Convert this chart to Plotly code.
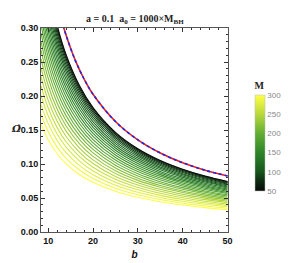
import plotly.graph_objects as go
from plotly.colors import sample_colorscale

# ---- data ----
b_vals = [8.4, 10, 12, 14, 17, 20, 25, 30, 35, 40, 45, 50]

M_vals = [50, 60, 70, 80, 90, 100, 110, 120, 130, 140, 150, 160, 170,
          180, 190, 200, 210, 220, 230, 240, 250, 260, 270, 280, 290, 300]

omega_M050 = [0.4345, 0.3650, 0.3042, 0.2607, 0.2150, 0.1830, 0.1466, 0.1225, 0.1052, 0.0923, 0.0822, 0.0742]
omega_M060 = [0.4303, 0.3615, 0.3013, 0.2583, 0.2130, 0.1813, 0.1453, 0.1214, 0.1043, 0.0915, 0.0815, 0.0736]
omega_M070 = [0.4242, 0.3564, 0.2971, 0.2547, 0.2101, 0.1789, 0.1434, 0.1198, 0.1029, 0.0903, 0.0805, 0.0727]
omega_M080 = [0.4170, 0.3504, 0.2922, 0.2505, 0.2067, 0.1760, 0.1411, 0.1180, 0.1014, 0.0890, 0.0793, 0.0716]
omega_M090 = [0.4091, 0.3438, 0.2867, 0.2459, 0.2029, 0.1728, 0.1386, 0.1159, 0.0996, 0.0874, 0.0779, 0.0704]
omega_M100 = [0.4005, 0.3367, 0.2809, 0.2409, 0.1989, 0.1694, 0.1359, 0.1137, 0.0977, 0.0858, 0.0765, 0.0691]
omega_M110 = [0.3914, 0.3292, 0.2746, 0.2356, 0.1946, 0.1658, 0.1330, 0.1113, 0.0957, 0.0841, 0.0750, 0.0677]
omega_M120 = [0.3819, 0.3212, 0.2681, 0.2300, 0.1900, 0.1620, 0.1300, 0.1088, 0.0936, 0.0823, 0.0734, 0.0663]
omega_M130 = [0.3719, 0.3129, 0.2612, 0.2242, 0.1853, 0.1580, 0.1269, 0.1062, 0.0914, 0.0803, 0.0717, 0.0648]
omega_M140 = [0.3615, 0.3043, 0.2541, 0.2181, 0.1804, 0.1539, 0.1236, 0.1036, 0.0891, 0.0784, 0.0699, 0.0632]
omega_M150 = [0.3508, 0.2954, 0.2467, 0.2119, 0.1753, 0.1496, 0.1203, 0.1008, 0.0868, 0.0763, 0.0681, 0.0616]
omega_M160 = [0.3398, 0.2862, 0.2392, 0.2055, 0.1701, 0.1452, 0.1168, 0.0979, 0.0844, 0.0742, 0.0663, 0.0600]
omega_M170 = [0.3284, 0.2767, 0.2314, 0.1989, 0.1647, 0.1406, 0.1132, 0.0950, 0.0819, 0.0720, 0.0644, 0.0583]
omega_M180 = [0.3168, 0.2671, 0.2234, 0.1921, 0.1592, 0.1360, 0.1096, 0.0919, 0.0793, 0.0698, 0.0624, 0.0565]
omega_M190 = [0.3049, 0.2572, 0.2152, 0.1851, 0.1535, 0.1312, 0.1058, 0.0888, 0.0767, 0.0676, 0.0604, 0.0547]
omega_M200 = [0.2927, 0.2470, 0.2069, 0.1780, 0.1477, 0.1264, 0.1020, 0.0857, 0.0740, 0.0652, 0.0584, 0.0529]
omega_M210 = [0.2803, 0.2367, 0.1984, 0.1708, 0.1418, 0.1214, 0.0981, 0.0825, 0.0713, 0.0629, 0.0563, 0.0510]
omega_M220 = [0.2676, 0.2262, 0.1897, 0.1634, 0.1358, 0.1164, 0.0941, 0.0792, 0.0685, 0.0604, 0.0542, 0.0491]
omega_M230 = [0.2548, 0.2155, 0.1808, 0.1559, 0.1297, 0.1112, 0.0900, 0.0759, 0.0657, 0.0580, 0.0520, 0.0472]
omega_M240 = [0.2417, 0.2046, 0.1719, 0.1483, 0.1235, 0.1060, 0.0859, 0.0725, 0.0628, 0.0555, 0.0498, 0.0452]
omega_M250 = [0.2284, 0.1935, 0.1627, 0.1405, 0.1172, 0.1007, 0.0817, 0.0690, 0.0599, 0.0530, 0.0476, 0.0432]
omega_M260 = [0.2149, 0.1823, 0.1535, 0.1327, 0.1108, 0.0953, 0.0775, 0.0655, 0.0569, 0.0504, 0.0453, 0.0412]
omega_M270 = [0.2012, 0.1709, 0.1441, 0.1247, 0.1043, 0.0898, 0.0732, 0.0620, 0.0539, 0.0478, 0.0430, 0.0391]
omega_M280 = [0.1873, 0.1594, 0.1345, 0.1166, 0.0977, 0.0843, 0.0688, 0.0584, 0.0508, 0.0451, 0.0407, 0.0371]
omega_M290 = [0.1732, 0.1477, 0.1249, 0.1084, 0.0911, 0.0787, 0.0644, 0.0547, 0.0477, 0.0424, 0.0383, 0.0349]
omega_M300 = [0.1590, 0.1358, 0.1151, 0.1001, 0.0843, 0.0730, 0.0599, 0.0510, 0.0446, 0.0397, 0.0359, 0.0328]

omega_table = [omega_M050, omega_M060, omega_M070, omega_M080, omega_M090,
               omega_M100, omega_M110, omega_M120, omega_M130, omega_M140,
               omega_M150, omega_M160, omega_M170, omega_M180, omega_M190,
               omega_M200, omega_M210, omega_M220, omega_M230, omega_M240,
               omega_M250, omega_M260, omega_M270, omega_M280, omega_M290,
               omega_M300]

# reference (red solid) and overlaid (blue dashed) curve
ref_b = [12, 13, 14, 16, 18, 20, 25, 30, 35, 40, 45, 50]
ref_omega = [0.3375, 0.3115, 0.2893, 0.2531, 0.2250, 0.2025, 0.1625, 0.1355, 0.1162, 0.1018, 0.0908, 0.0824]

x_ticks = [10, 20, 30, 40, 50]
y_ticks = [0.00, 0.05, 0.10, 0.15, 0.20, 0.25, 0.30]
cbar_ticks = [50, 100, 150, 200, 250, 300]

# ---- styling ----
cscale = [
    [0.0, "rgb(8,10,8)"],
    [0.1, "rgb(14,42,16)"],
    [0.2, "rgb(22,86,28)"],
    [0.4, "rgb(46,132,40)"],
    [0.6, "rgb(98,174,50)"],
    [0.8, "rgb(186,216,60)"],
    [1.0, "rgb(255,255,70)"],
]
Mmin, Mmax = 50, 300

fig = go.Figure()

for M, ys in zip(M_vals, omega_table):
    col = sample_colorscale(cscale, [(M - Mmin) / (Mmax - Mmin)])[0]
    fig.add_trace(go.Scatter(
        x=b_vals, y=ys, mode="lines",
        line=dict(color=col, width=1.1, shape="spline", smoothing=1.0),
        showlegend=False, hoverinfo="skip"))

fig.add_trace(go.Scatter(
    x=ref_b, y=ref_omega, mode="lines",
    line=dict(color="rgb(230,30,30)", width=1.6, shape="spline"),
    showlegend=False, hoverinfo="skip"))
fig.add_trace(go.Scatter(
    x=ref_b, y=ref_omega, mode="lines",
    line=dict(color="rgb(30,40,230)", width=1.6, shape="spline", dash="3px,3px"),
    showlegend=False, hoverinfo="skip"))

# colorbar carrier
fig.add_trace(go.Scatter(
    x=[None], y=[None], mode="markers",
    marker=dict(
        color=[Mmin], cmin=Mmin, cmax=Mmax, colorscale=cscale, showscale=True,
        colorbar=dict(
            x=1.089, xanchor="left", xref="paper",
            y=0.4756, yanchor="middle", len=0.648, lenmode="fraction",
            thickness=10, outlinewidth=0.5, outlinecolor="#bbbbbb",
            tickvals=cbar_ticks, ticks="",
            tickfont=dict(family="Liberation Sans", size=8, color="#888888"),
            title=dict(text="<b>M</b>", side="top",
                       font=dict(family="Liberation Serif", size=10, color="#222222")),
        )),
    showlegend=False, hoverinfo="skip"))

tick_font = dict(family="Liberation Sans", size=9, color="#111111", weight="bold")

fig.update_xaxes(
    range=[8.4, 50.1], tickvals=x_ticks, ticks="inside", ticklen=4, tickwidth=1,
    tickcolor="#333333", showline=True, linecolor="#555555", linewidth=1,
    mirror="ticks", showgrid=False, zeroline=False, tickfont=tick_font,
    minor=dict(dtick=2, tick0=0, ticks="inside", ticklen=2, tickcolor="#333333"),
    title=dict(text="<b><i>b</i></b>", standoff=6,
               font=dict(family="Liberation Sans", size=10, color="#111111")),
)
fig.update_yaxes(
    range=[0, 0.30], tickvals=y_ticks, tickformat=".2f", ticks="inside", ticklen=4,
    tickwidth=1, tickcolor="#333333", showline=True, linecolor="#555555", linewidth=1,
    mirror="ticks", showgrid=False, zeroline=False, tickfont=tick_font,
    minor=dict(dtick=0.01, tick0=0, ticks="inside", ticklen=2, tickcolor="#333333"),
)

fig.add_annotation(
    text="<b>a = 0.1  a<sub>0</sub> = 1000×M<sub>BH</sub></b>",
    xref="paper", yref="paper", x=0.5, y=1, yshift=9, yanchor="middle",
    showarrow=False, font=dict(family="Liberation Serif", size=10, color="#222222"))

# y-axis label: Omega with a hat (combining circumflex)
fig.add_annotation(
    text="<b><i>Ω\u0302</i></b>",
    xref="paper", yref="y", x=-0.135, y=0.152, xanchor="center", yanchor="middle",
    showarrow=False, font=dict(family="DejaVu Serif", size=10, color="#222222"))

fig.update_layout(
    width=293, height=263,
    margin=dict(l=33, r=49, t=20, b=30),
    paper_bgcolor="white", plot_bgcolor="white",
)

fig.write_html("out.html")
